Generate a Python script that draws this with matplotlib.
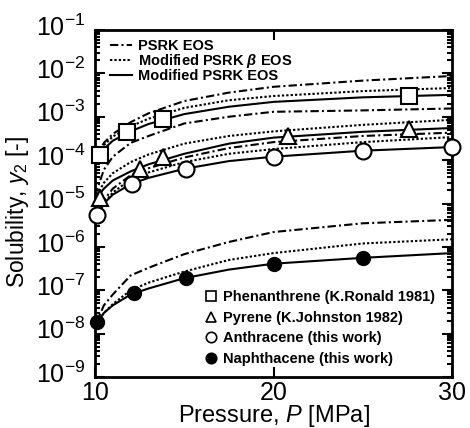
import numpy as np
import matplotlib
matplotlib.use("Agg")
import matplotlib.pyplot as plt
import matplotlib.transforms as mtransforms
from matplotlib.lines import Line2D
from matplotlib.ticker import LogLocator, FixedLocator, NullLocator, LogFormatterSciNotation

plt.rcParams['font.family'] = ['Liberation Sans', 'DejaVu Sans']
plt.rcParams['mathtext.fontset'] = 'custom'
plt.rcParams['mathtext.rm'] = 'Liberation Sans'
plt.rcParams['mathtext.it'] = 'Liberation Sans:italic'
plt.rcParams['mathtext.bf'] = 'Liberation Sans:bold'
plt.rcParams['mathtext.bfit'] = 'Liberation Sans:bold:italic'

# ---- curve data ----
P_grid = [10, 10.5, 11, 12, 13, 15, 17.5, 20, 25, 30]

ph_psrk = [1.0e-4, 2.5e-4, 4.0e-4, 7.5e-4, 1.2e-3, 2.3e-3, 3.6e-3, 4.9e-3, 6.8e-3, 8.7e-3]
ph_beta = [1.0e-4, 2.2e-4, 3.5e-4, 6.0e-4, 9.0e-4, 1.6e-3, 2.4e-3, 3.0e-3, 3.9e-3, 4.6e-3]
ph_mod = [1.0e-4, 1.8e-4, 2.8e-4, 4.6e-4, 6.8e-4, 1.15e-3, 1.7e-3, 2.2e-3, 2.8e-3, 3.2e-3]

py_psrk = [1.5e-5, 6.0e-5, 1.2e-4, 2.5e-4, 3.6e-4, 7.0e-4, 1.0e-3, 1.3e-3, 1.4e-3, 1.55e-3]
py_beta = [1.3e-5, 3.0e-5, 5.0e-5, 9.0e-5, 1.35e-4, 2.4e-4, 3.6e-4, 4.6e-4, 6.5e-4, 8.5e-4]
py_mod = [1.2e-5, 2.2e-5, 3.4e-5, 5.5e-5, 8.0e-5, 1.4e-4, 2.4e-4, 3.3e-4, 4.5e-4, 5.5e-4]

an_psrk = [4.0e-6, 1.2e-5, 2.2e-5, 4.5e-5, 6.5e-5, 1.15e-4, 1.9e-4, 2.6e-4, 3.6e-4, 4.3e-4]
an_beta = [4.0e-6, 1.0e-5, 1.8e-5, 3.6e-5, 5.2e-5, 9.0e-5, 1.4e-4, 1.8e-4, 2.6e-4, 3.4e-4]
an_mod = [4.0e-6, 1.0e-5, 1.6e-5, 2.8e-5, 3.9e-5, 6.3e-5, 9.5e-5, 1.2e-4, 1.65e-4, 2.0e-4]

na_psrk = [1.5e-8, 4.5e-8, 8.0e-8, 2.2e-7, 3.3e-7, 6.8e-7, 1.3e-6, 2.2e-6, 3.5e-6, 4.2e-6]
na_beta = [1.5e-8, 3.0e-8, 4.8e-8, 1.0e-7, 1.5e-7, 2.7e-7, 5.0e-7, 7.2e-7, 1.2e-6, 1.5e-6]
na_mod = [1.5e-8, 3.0e-8, 4.5e-8, 8.0e-8, 1.1e-7, 1.9e-7, 3.0e-7, 4.1e-7, 5.6e-7, 7.2e-7]

# ---- experimental points ----
ph_P = [10.3, 11.8, 13.8, 27.6]
ph_y = [1.3e-4, 4.5e-4, 9.0e-4, 3.0e-3]
py_P = [10.3, 12.5, 13.8, 20.8, 27.6]
py_y = [1.35e-5, 6.3e-5, 1.15e-4, 3.6e-4, 5.2e-4]
an_P = [10.1, 12.1, 15.1, 20.0, 25.0, 30.0]
an_y = [5.3e-6, 2.8e-5, 6.3e-5, 1.2e-4, 1.65e-4, 2.0e-4]
na_P = [10.1, 12.2, 15.1, 20.0, 25.0]
na_y = [1.9e-8, 8.7e-8, 1.9e-7, 4.1e-7, 5.5e-7]

line_labels = ['PSRK EOS', r'Modified PSRK $\boldsymbol{\beta}$ EOS', 'Modified PSRK EOS']
point_labels = ['Phenanthrene (K.Ronald 1981)', 'Pyrene (K.Johnston 1982)',
                'Anthracene (this work)', 'Naphthacene (this work)']
x_ticks = [10, 20, 30]
y_ticks = [1e-9, 1e-8, 1e-7, 1e-6, 1e-5, 1e-4, 1e-3, 1e-2, 1e-1]

fig = plt.figure(figsize=(4.70, 4.28), dpi=100)
ax = fig.add_axes([0.202, 0.119, 0.760, 0.811])

lw = 1.5
ls_psrk = (0, (4, 1.5, 1, 1.5))
ls_beta = (0, (1.1, 1.0))
ls_mod = '-'

for c in (ph_psrk, py_psrk, an_psrk, na_psrk):
    ax.plot(P_grid, c, color='black', lw=lw, ls=ls_psrk)
for c in (ph_beta, py_beta, an_beta, na_beta):
    ax.plot(P_grid, c, color='black', lw=lw, ls=ls_beta)
for c in (ph_mod, py_mod, an_mod, na_mod):
    ax.plot(P_grid, c, color='black', lw=lw, ls=ls_mod)

mk = dict(ls='none', color='black', mec='black', mew=1.5, clip_on=False, zorder=5)
ax.plot(ph_P, ph_y, marker='s', ms=11, mfc='white', **mk)
ax.plot(py_P, py_y, marker='^', ms=11, mfc='white', **mk)
ax.plot(an_P, an_y, marker='o', ms=11.5, mfc='white', **mk)
ax.plot(na_P, na_y, marker='o', ms=9.5, mfc='black', **mk)

ax.set_yscale('log')
ax.set_xlim(10, 30)
ax.set_ylim(1e-9, 1e-1)
ax.xaxis.set_major_locator(FixedLocator(x_ticks))
ax.xaxis.set_minor_locator(NullLocator())
ax.yaxis.set_major_locator(FixedLocator(y_ticks))
ax.yaxis.set_major_formatter(LogFormatterSciNotation())
ax.yaxis.set_minor_locator(LogLocator(base=10, subs=np.arange(2, 10), numticks=20))

for s in ax.spines.values():
    s.set_linewidth(2.0)
ax.tick_params(which='both', direction='in', top=True, right=True, width=1.5)
ax.tick_params(which='major', length=7, labelsize=18)
ax.tick_params(axis='y', which='major', pad=7)
ax.tick_params(axis='x', which='major', pad=3)
ax.tick_params(which='minor', length=3.5)

# raise y tick labels slightly (digits sit just above the tick in the reference)
offset = mtransforms.ScaledTranslation(0, 0.05, fig.dpi_scale_trans)
for lab in ax.get_yticklabels():
    lab.set_transform(lab.get_transform() + offset)

ax.set_xlabel('Pressure, $P$ [MPa]', fontsize=17, labelpad=-1.5)
ax.set_ylabel('Solubility, $y_2$ [-]', fontsize=16.5)
ax.yaxis.set_label_coords(-0.18, 0.475)

h_lines = [Line2D([], [], color='black', lw=lw, ls=ls_psrk),
           Line2D([], [], color='black', lw=lw, ls=ls_beta),
           Line2D([], [], color='black', lw=lw, ls=ls_mod)]
leg1 = ax.legend(h_lines, line_labels, loc='upper left', bbox_to_anchor=(0.042, 0.975),
                 frameon=False, handlelength=1.5, handletextpad=0.45, labelspacing=-0.05,
                 borderaxespad=0.0, borderpad=0.0, prop={'weight': 'bold', 'size': 10.5})
ax.add_artist(leg1)

h_pts = [Line2D([], [], ls='none', marker='s', ms=7.5, mfc='white', mec='black', mew=1.2),
         Line2D([], [], ls='none', marker='^', ms=7.5, mfc='white', mec='black', mew=1.2),
         Line2D([], [], ls='none', marker='o', ms=7.5, mfc='white', mec='black', mew=1.2),
         Line2D([], [], ls='none', marker='o', ms=7.5, mfc='black', mec='black', mew=1.2)]
ax.legend(h_pts, point_labels, loc='lower right', bbox_to_anchor=(0.952, 0.032),
          frameon=False, handlelength=0.8, handletextpad=0.4, labelspacing=0.45,
          borderaxespad=0.0, borderpad=0.0, prop={'weight': 'bold', 'size': 10.5})

fig.savefig('out.png', dpi=100)
